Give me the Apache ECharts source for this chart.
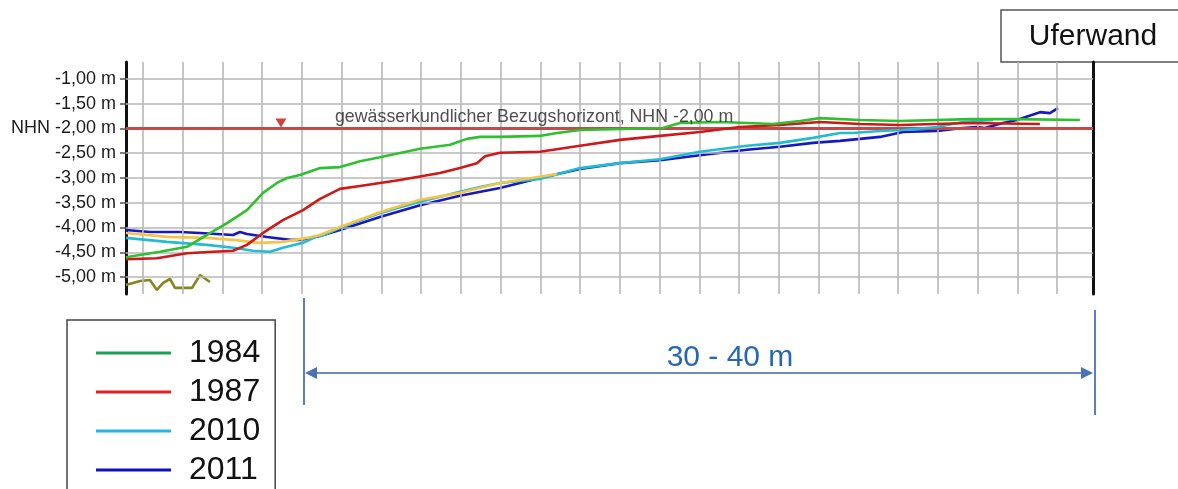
<!DOCTYPE html>
<html><head><meta charset="utf-8">
<script src="https://cdn.jsdelivr.net/npm/echarts@6/dist/echarts.min.js"></script>
<style>html,body{margin:0;padding:0;background:#fff}#c{width:1178px;height:489px}</style>
</head><body><div id="c"></div>
<script>
// distance along profile (m), elevation (m NHN)
const gridXTicks = [0,2,4,6,8,10,12,14,16,18,20,22,24,26,28,30,32,34,36,38,40,42,44,46];
const yTicks = [-1,-1.5,-2,-2.5,-3,-3.5,-4,-4.5,-5];
const refLevel = -2.0;
const refLabel = 'gewässerkundlicher Bezugshorizont, NHN -2,00 m';
const refMarker = [[6.94,-1.89]];
const refLabelPos = [[9.66,-1.77]];

const s1984 = [[-0.86,-4.60],[0.86,-4.49],[2.21,-4.39],[3.22,-4.15],[4.23,-3.91],[5.23,-3.65],[6.04,-3.30],[6.74,-3.10],[7.25,-3.00],[7.90,-2.94],[8.91,-2.80],[9.91,-2.78],[10.92,-2.66],[11.92,-2.58],[13.94,-2.41],[15.45,-2.33],[16.30,-2.21],[16.96,-2.17],[17.96,-2.17],[19.97,-2.15],[20.83,-2.09],[21.99,-2.03],[24.15,-2.01],[26.16,-1.99],[27.02,-1.89],[29.03,-1.87],[30.39,-1.89],[31.70,-1.91],[33.06,-1.85],[34.06,-1.79],[36.08,-1.83],[38.09,-1.85],[41.61,-1.81],[43.77,-1.81],[47.14,-1.83]];
const s1987 = [[-0.86,-4.64],[0.70,-4.62],[2.21,-4.52],[3.52,-4.49],[4.53,-4.47],[5.23,-4.35],[6.04,-4.11],[7.04,-3.85],[8.05,-3.65],[8.91,-3.42],[9.91,-3.22],[10.92,-3.16],[12.93,-3.04],[14.94,-2.90],[15.95,-2.80],[16.80,-2.70],[17.21,-2.56],[17.96,-2.49],[19.97,-2.47],[21.99,-2.35],[24.00,-2.23],[26.01,-2.15],[28.02,-2.07],[30.04,-1.97],[32.05,-1.93],[34.06,-1.87],[36.08,-1.91],[38.09,-1.93],[41.61,-1.89],[45.13,-1.91]];
const s2010 = [[-0.86,-4.21],[1.21,-4.29],[3.22,-4.35],[4.53,-4.41],[5.53,-4.47],[6.39,-4.49],[7.04,-4.41],[8.05,-4.31],[8.81,-4.17],[9.01,-4.17],[9.91,-4.01],[11.92,-3.71],[12.93,-3.59],[13.94,-3.48],[14.94,-3.38],[15.95,-3.28],[16.96,-3.18],[17.96,-3.10],[19.97,-3.02],[21.99,-2.80],[24.00,-2.70],[26.01,-2.62],[28.02,-2.47],[30.39,-2.35],[32.05,-2.29],[33.71,-2.19],[35.07,-2.09],[35.72,-2.09],[37.08,-2.05],[38.24,-2.03],[39.95,-1.97],[41.26,-1.87],[42.77,-1.83]];
const s2011 = [[-0.86,-4.05],[0.35,-4.09],[1.86,-4.09],[2.87,-4.11],[4.53,-4.15],[4.88,-4.09],[5.23,-4.13],[6.24,-4.19],[7.40,-4.25],[7.90,-4.25],[8.91,-4.17],[9.91,-4.05],[11.92,-3.79],[13.94,-3.55],[15.95,-3.36],[17.96,-3.20],[19.97,-3.00],[21.99,-2.82],[24.00,-2.70],[26.01,-2.64],[28.02,-2.54],[30.39,-2.43],[32.05,-2.37],[33.71,-2.29],[35.07,-2.25],[36.08,-2.21],[37.08,-2.17],[38.24,-2.07],[39.95,-2.05],[41.26,-1.99],[41.96,-1.97],[42.36,-1.99],[43.27,-1.89],[43.97,-1.83],[45.13,-1.67],[45.63,-1.69],[46.04,-1.59]];
const sYellow = [[-0.86,-4.11],[1.21,-4.19],[3.22,-4.21],[4.53,-4.25],[5.89,-4.31],[7.04,-4.29],[8.25,-4.21],[8.91,-4.15],[9.91,-3.99],[11.92,-3.69],[13.94,-3.44],[15.95,-3.30],[17.96,-3.10],[20.83,-2.92]];
const sOlive = [[-0.86,-5.16],[-0.15,-5.08],[0.35,-5.06],[0.70,-5.26],[1.01,-5.12],[1.36,-5.04],[1.61,-5.22],[2.47,-5.22],[2.87,-4.96],[3.37,-5.10]];

const FONT = 'Liberation Sans, Arial, sans-serif';
const fmt = v => (Math.abs(v - refLevel) < 1e-9 ? 'NHN ' : '') + v.toFixed(2).replace('.', ',') + ' m';

const chart = echarts.init(document.getElementById('c'));
function lineSeries(name, data, color, z) {
  return {name, type:'line', data, showSymbol:false, symbol:'none', z,
    lineStyle:{color, width:2.6}, itemStyle:{color}, animation:false};
}
chart.setOption({
  animation:false,
  backgroundColor:'#fff',
  grid:{left:126, right:85, top:62, bottom:195},
  xAxis:{type:'value', min:-0.855, max:47.8, show:false, axisLine:{onZero:false}},
  yAxis:[{
    type:'value', min:-5.343, max:-0.657,
    axisLine:{show:true, onZero:false, lineStyle:{color:'#111', width:3}},
    axisTick:{show:true, customValues:yTicks, length:6, lineStyle:{color:'#555', width:1.5}},
    axisLabel:{customValues:yTicks, formatter:fmt, fontSize:18, color:'#1a1a1a', fontFamily:FONT, margin:10},
    splitLine:{show:false}
  },{
    type:'value', min:-5.343, max:-0.657, position:'right',
    axisLine:{show:true, onZero:false, lineStyle:{color:'#111', width:3}},
    axisTick:{show:false}, axisLabel:{show:false}, splitLine:{show:false}
  }],
  legend:{
    orient:'vertical', left:67, top:320, height:260, padding:[14,15,30,29],
    itemWidth:75, itemHeight:3, itemGap:1, icon:'rect', selectedMode:false,
    borderColor:'#444', borderWidth:1.5,
    textStyle:{fontSize:32, lineHeight:38, color:'#111', fontFamily:FONT, padding:[0,0,0,13]},
    data:[
      {name:'1984', itemStyle:{color:'#1aa052'}},
      {name:'1987', itemStyle:{color:'#e31e24'}},
      {name:'2010', itemStyle:{color:'#29b2e3'}},
      {name:'2011', itemStyle:{color:'#1010c0'}}
    ]
  },
  series:[
    {type:'line', data:[], z:1, silent:true,
      markLine:{symbol:['none','none'], silent:true, animation:false, label:{show:false},
        lineStyle:{color:'#b7b7b7', width:1.6, type:'solid'},
        data: gridXTicks.map(v=>({xAxis:v})).concat(yTicks.filter(v=>v!==refLevel).map(v=>({yAxis:v})))}},
    {type:'line', data:[], z:2, silent:true,
      markLine:{symbol:['none','none'], silent:true, animation:false, label:{show:false},
        lineStyle:{color:'#c24a4a', width:3, type:'solid'}, data:[{yAxis:refLevel}]}},
    lineSeries('olive', sOlive, '#85861e', 3),
    lineSeries('2011', s2011, '#1717c4', 4),
    lineSeries('2010', s2010, '#22bcd2', 5),
    lineSeries('yellow', sYellow, '#f4c447', 6),
    lineSeries('1987', s1987, '#d01818', 7),
    lineSeries('1984', s1984, '#2ec02e', 8),
    {type:'scatter', data:refMarker, symbol:'triangle', symbolRotate:180, symbolSize:[11,9], itemStyle:{color:'#c81010'}, z:9, silent:true},
    {type:'scatter', data:refLabelPos, symbolSize:0, z:9, silent:true,
      label:{show:true, position:'right', distance:0, formatter:refLabel, fontSize:17.8, color:'#222', fontFamily:FONT}}
  ],
  graphic:[
    {type:'rect', shape:{x:1001, y:10, width:200, height:52}, style:{fill:'#fff', stroke:'#555', lineWidth:1.5}},
    {type:'text', x:1093, y:37, style:{text:'Uferwand', font:'30px ' + FONT, fill:'#111', align:'center', verticalAlign:'middle'}},
    {type:'line', shape:{x1:304, y1:298, x2:304, y2:405}, style:{stroke:'#4a72b5', lineWidth:1.8}},
    {type:'line', shape:{x1:1095, y1:310, x2:1095, y2:415}, style:{stroke:'#4a72b5', lineWidth:1.8}},
    {type:'line', shape:{x1:312, y1:373, x2:1086, y2:373}, style:{stroke:'#6a8cc4', lineWidth:2}},
    {type:'polygon', shape:{points:[[305,373],[317,367],[317,379]]}, style:{fill:'#4a72b5'}},
    {type:'polygon', shape:{points:[[1093,373],[1081,367],[1081,379]]}, style:{fill:'#4a72b5'}},
    {type:'text', x:730, y:358, style:{text:'30 - 40 m', font:'30px ' + FONT, fill:'#2468b0', align:'center', verticalAlign:'middle'}}
  ]
});
</script>
</body></html>
